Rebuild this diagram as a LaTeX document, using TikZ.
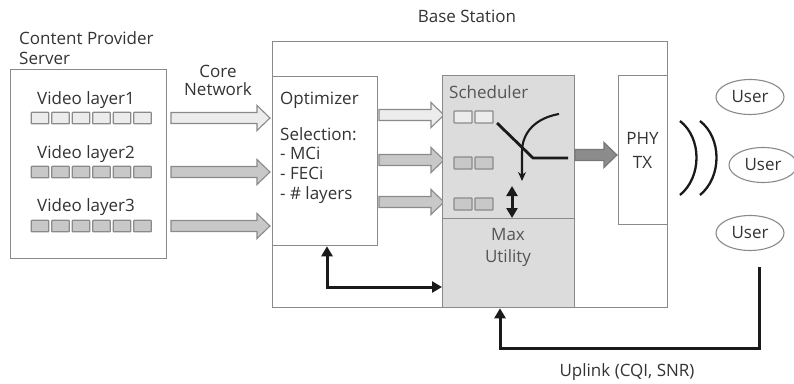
\documentclass[tikz,border=0pt]{standalone}
\usepackage{fontspec}
\setmainfont{Open Sans}
\usetikzlibrary{arrows.meta,shapes.geometric}

\definecolor{edge}{HTML}{8A8A8A}
\definecolor{lightfill}{HTML}{ECECEC}
\definecolor{midfill}{HTML}{C8C8C8}
\definecolor{schedfill}{HTML}{DCDCDC}
\definecolor{txt}{HTML}{333333}
\definecolor{softtxt}{HTML}{555555}
\definecolor{phyfill}{HTML}{8C8C8C}
\definecolor{ink}{HTML}{1A1A1A}

% hollow block arrow: #1 = left x, #2 = tip x, #3 = centre y, #4 = fill colour, #5 = outline colour
\newcommand\blockarrow[5]{%
  \draw[line width=1.1pt, draw=#5, fill=#4, line join=miter]
    (#1,#3-5.5) -- (#2-13,#3-5.5) -- (#2-13,#3-12.5) -- (#2,#3)
    -- (#2-13,#3+12.5) -- (#2-13,#3+5.5) -- (#1,#3+5.5) -- cycle;}

\begin{document}
\begin{tikzpicture}[x=1pt,y=-1pt,
  font=\fontsize{17}{19.8}\selectfont,
  box/.style={draw=edge, line width=1.3pt, anchor=north west, inner sep=0pt},
  cell/.style={draw=edge, line width=1.2pt, minimum width=17.5pt, minimum height=11.5pt,
               inner sep=0pt, rounded corners=0.6pt},
  lbl/.style={text=txt, inner sep=0pt, anchor=base},
  lblw/.style={text=txt, inner sep=0pt, anchor=base west},
  user/.style={ellipse, draw=edge, line width=1.1pt, minimum width=68pt,
               minimum height=35pt, inner sep=0pt, text=txt},
  fb/.style={draw=ink, line width=3pt,
             arrows={-Triangle[length=10pt,width=11pt]}},
  fbboth/.style={draw=ink, line width=3pt,
             arrows={Triangle[length=10pt,width=11pt]-Triangle[length=10pt,width=11pt]}},
]
\useasboundingbox (0,0) rectangle (794,383);

% ---------------- content provider server ----------------
\node[lblw] (cpsA) at (19,44) {Content Provider};
\node[lblw] (cpsB) at (19,64) {Server};
\node[box, minimum width=156pt, minimum height=189pt] (server) at (10,69) {};

\node[lbl] (vl1) at (86,104.5) {Video layer1};
\node[lbl] (vl2) at (86,158) {Video layer2};
\node[lbl] (vl3) at (86,211.5) {Video layer3};
\foreach \i in {0,...,5}{
  \node[cell, fill=lightfill] (c1\i) at (40+\i*20.5,118) {};
  \node[cell, fill=midfill]   (c2\i) at (40+\i*20.5,172) {};
  \node[cell, fill=midfill]   (c3\i) at (40+\i*20.5,226) {};
}

% ---------------- core network links ----------------
\node[lbl] (coreA) at (218,77) {Core};
\node[lbl] (coreB) at (218,95) {Network};
\blockarrow{171}{270}{118}{lightfill}{edge}
\blockarrow{171}{270}{172}{midfill}{edge}
\blockarrow{171}{270}{226}{midfill}{edge}

% ---------------- base station ----------------
\node[lbl] (bs) at (467,22) {Base Station};
\node[box, minimum width=395pt, minimum height=266pt] (station) at (272,41) {};

% optimizer
\node[box, fill=white, minimum width=105pt, minimum height=169pt] (opt) at (272,76) {};
\node[lblw] (optT) at (280,104) {Optimizer};
\node[lblw, align=left, anchor=north west] (optL) at (280,127)
  {Selection:\\- MCi\\- FECi\\- \# layers};

\blockarrow{379}{444}{115}{lightfill}{edge}
\blockarrow{379}{444}{160}{midfill}{edge}
\blockarrow{379}{444}{202}{midfill}{edge}

% scheduler and utility block
\node[box, fill=schedfill, minimum width=132pt, minimum height=143pt] (sched) at (442,75) {};
\node[box, fill=schedfill, minimum width=132pt, minimum height=89pt] (util) at (442,218) {};
\node[lblw, text=softtxt] (schedT) at (449,98) {Scheduler};
\node[lbl, text=softtxt] (utilA) at (508,240) {Max};
\node[lbl, text=softtxt] (utilB) at (508,262) {Utility};

\foreach \r/\y/\f in {1/117/lightfill,2/163/midfill,3/204/midfill}{
  \node[cell, fill=\f, minimum width=18pt, minimum height=12pt] (q\r a) at (463,\y) {};
  \node[cell, fill=\f, minimum width=18pt, minimum height=12pt] (q\r b) at (484,\y) {};
}

% switch symbol
\coordinate (swIn) at (497,123);
\coordinate (swHub) at (533,158);
\coordinate (swOut) at (568,158);
\coordinate (arcTop) at (559,114);
\coordinate (arcEnd) at (522,181);
\draw[ink, line width=2.8pt] (swIn) -- (swHub) -- (swOut);
\draw[ink, line width=2.1pt, arrows={-Stealth[length=9pt,width=8pt]}]
  (arcTop) .. controls (536,118) and (522,132) .. (522,152) -- (arcEnd);
\coordinate (dblTop) at (512,186);
\coordinate (dblBot) at (512,218);
\draw[fbboth] (dblTop) -- (dblBot);

% PHY
\node[box, minimum width=49pt, minimum height=149pt] (phy) at (618,75) {};
\node[lbl] (phyA) at (642.5,144) {PHY};
\node[lbl] (phyB) at (642.5,168) {TX};
\blockarrow{575}{617}{155}{phyfill}{phyfill!85!black}

% radio waves
\draw[ink, line width=2.3pt] (680,121) .. controls (702,138) and (702,177) .. (680,195);
\draw[ink, line width=2.3pt] (700,121) .. controls (722,138) and (722,177) .. (700,195);

% users
\node[user] (u1) at (750,97) {User};
\node[user] (u2) at (763,165) {User};
\node[user] (u3) at (750,233) {User};

% feedback paths
\coordinate (fbCorner) at (327,287);
\draw[fbboth] (opt.south -| fbCorner) |- (util.west |- fbCorner);
\coordinate (ulStart) at (759,267);
\coordinate (ulTurn) at (759,348);
\draw[fb, line join=miter] (ulStart) -- (ulTurn) -| (util.south -| 500,0);
\node[lbl] (uplink) at (627,376) {Uplink (CQI, SNR)};
\end{tikzpicture}
\end{document}
